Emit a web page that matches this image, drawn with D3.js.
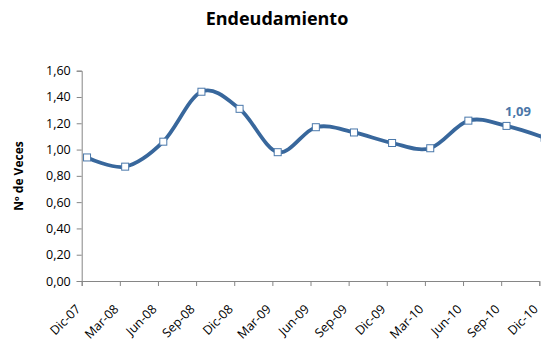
<!DOCTYPE html>
<html><head><meta charset="utf-8">
<script src="https://cdn.jsdelivr.net/npm/d3@7"></script>
<style>body{margin:0;background:#fff}svg{display:block}</style>
</head><body>
<script>
const categories = ["Dic-07","Mar-08","Jun-08","Sep-08","Dic-08","Mar-09","Jun-09","Sep-09","Dic-09","Mar-10","Jun-10","Sep-10","Dic-10"];
const values = [0.94,0.87,1.06,1.44,1.31,0.98,1.17,1.13,1.05,1.01,1.22,1.18,1.09];
const yTicks = [0,0.2,0.4,0.6,0.8,1.0,1.2,1.4,1.6];
const title = "Endeudamiento";
const yTitle = "Nº de Veces";
const labelIndex = 12;

const W = 541, H = 342;
const svg = d3.select("body").append("svg").attr("width", W).attr("height", H);
const font = "'Open Sans', 'Noto Sans', sans-serif";

const x = d3.scaleLinear().domain([0, categories.length - 1]).range([81.7, 539.3]);
const pointOffset = 0.14;
const y = d3.scaleLinear().domain([0, 1.6]).range([281, 70.7]);

// title
svg.append("text").attr("x", 277).attr("y", 25).attr("text-anchor", "middle")
  .style("font-family", font).style("font-weight", "bold").style("font-size", "18px")
  .attr("fill", "#000").text(title);

// y axis
const yAxis = svg.append("g").attr("transform", "translate(81.7,0)")
  .call(d3.axisLeft(y).tickValues(yTicks).tickSize(5).tickPadding(6)
    .tickFormat(d => d3.format(".2f")(d).replace(".", ",")));
yAxis.select(".domain").attr("stroke", "#868686");
yAxis.selectAll(".tick line").attr("stroke", "#868686");
yAxis.selectAll("text").style("font-family", font).style("font-size", "12.5px").attr("fill", "#000");

// x axis
const xAxis = svg.append("g").attr("transform", "translate(0,281)")
  .call(d3.axisBottom(x).tickValues(d3.range(categories.length)).tickSize(5)
    .tickFormat(i => categories[i]));
xAxis.select(".domain").attr("stroke", "#868686");
xAxis.selectAll(".tick line").attr("stroke", "#868686");
xAxis.selectAll("text").style("font-family", font).style("font-size", "12.5px").attr("fill", "#000")
  .attr("text-anchor", "end").attr("dy", null).attr("y", 0)
  .attr("transform", "translate(-1,29) rotate(-45)");

// y title
svg.append("text").attr("transform", "translate(23,176) rotate(-90)").attr("text-anchor", "middle")
  .style("font-family", font).style("font-weight", "bold").style("font-size", "12px")
  .attr("fill", "#000").text(yTitle);

const pts = values.map((v, i) => [x(i + pointOffset), y(v)]);
const lineColor = "#38679c";
svg.append("path").attr("d", d3.line().curve(d3.curveCardinal.tension(0))(pts))
  .attr("fill", "none").attr("stroke", lineColor).attr("stroke-width", 3.8)
  .attr("stroke-linejoin", "round").attr("stroke-linecap", "round");

svg.selectAll("rect.m").data(pts).join("rect").attr("class", "m")
  .attr("x", d => d[0] - 3.5).attr("y", d => d[1] - 3.5)
  .attr("width", 7).attr("height", 7)
  .attr("fill", "#fff").attr("stroke", "#4a78ab").attr("stroke-width", 1);

svg.append("text").attr("x", 518).attr("y", 116).attr("text-anchor", "middle")
  .style("font-family", font).style("font-weight", "bold").style("font-size", "13px")
  .attr("fill", "#4a76a8").text(d3.format(".2f")(values[labelIndex]).replace(".", ","));
</script>
</body></html>
